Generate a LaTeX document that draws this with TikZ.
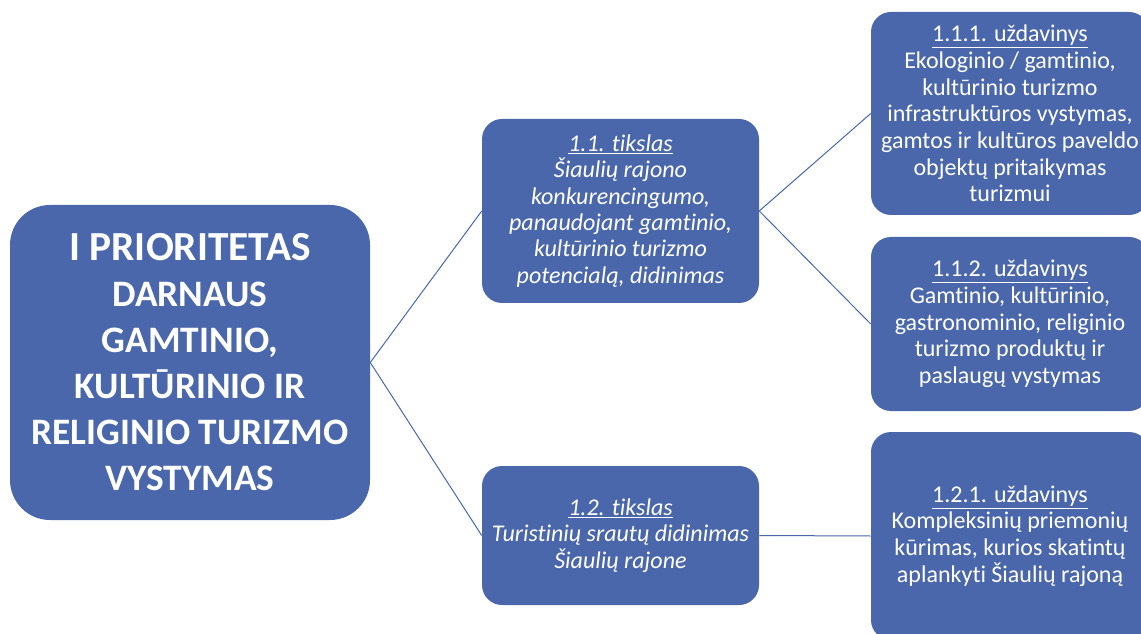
\documentclass[tikz,border=0pt]{standalone}
\usepackage{fontspec}
\setmainfont{Carlito}[Ligatures={NoCommon}]
\usepackage{tikz}
\definecolor{boxblue}{RGB}{74,103,172}

\begin{document}
\begin{tikzpicture}[x=0.75pt,y=0.75pt,yscale=-1,xscale=1,
  box/.style={fill=boxblue, text=white, align=center, inner sep=0pt},
  link/.style={draw=boxblue, line width=0.75pt}]
\useasboundingbox (0,0) rectangle (1141,634);

%Rounded Rect [id:prioritetas] 
\node [box, rounded corners=30pt, minimum width=270pt, minimum height=236.25pt,
  font=\bfseries\fontsize{28}{34.5}\selectfont] (prio) at (190,362.5)
  {{\fontsize{31}{34.5}\selectfont I PRIORITETAS}\\DARNAUS\\GAMTINIO,\\KULTŪRINIO IR\\RELIGINIO TURIZMO\\VYSTYMAS};

%Rounded Rect [id:tikslas11] 
\node [box, rounded corners=15pt, minimum width=207.75pt, minimum height=138pt,
  font=\itshape\fontsize{18}{19.8}\selectfont] (t11) at (620.5,211)
  {\underline{1.1. tikslas}\\Šiaulių rajono\\konkurencingumo,\\panaudojant gamtinio,\\kultūrinio turizmo\\potencialą, didinimas};

%Rounded Rect [id:tikslas12] 
\node [box, rounded corners=15pt, minimum width=207.75pt, minimum height=104.25pt,
  font=\itshape\fontsize{18}{19.8}\selectfont] (t12) at (620.5,535.5)
  {\underline{1.2. tikslas}\\Turistinių srautų didinimas\\Šiaulių rajone};

%Rounded Rect [id:uzd111] 
\node [box, rounded corners=15pt, minimum width=208.5pt, minimum height=152.25pt,
  font=\fontsize{18}{20}\selectfont] (u111) at (1010,113.5)
  {\underline{1.1.1. uždavinys}\\Ekologinio / gamtinio,\\kultūrinio turizmo\\infrastruktūros vystymas,\\gamtos ir kultūros paveldo\\objektų pritaikymas\\turizmui};

%Rounded Rect [id:uzd112] 
\node [box, rounded corners=15pt, minimum width=208.5pt, minimum height=130.5pt,
  font=\fontsize{18}{20}\selectfont] (u112) at (1010,324)
  {\underline{1.1.2. uždavinys}\\Gamtinio, kultūrinio,\\gastronominio, religinio\\turizmo produktų ir\\paslaugų vystymas};

%Rounded Rect [id:uzd121] 
\node [box, rounded corners=15pt, minimum width=208.5pt, minimum height=156pt,
  font=\fontsize{18}{20}\selectfont] (u121) at (1010,536)
  {\underline{1.2.1. uždavinys}\\Kompleksinių priemonių\\kūrimas, kurios skatintų\\aplankyti Šiaulių rajoną};

%Straight Lines 
\draw [link] (prio.east) -- (t11.west) ;
\draw [link] (prio.east) -- (t12.west) ;
\draw [link] (t11.east) -- (u111.west) ;
\draw [link] (t11.east) -- (u112.west) ;
\draw [link] (t12.east) -- (u121.west) ;

\end{tikzpicture}
\end{document}
